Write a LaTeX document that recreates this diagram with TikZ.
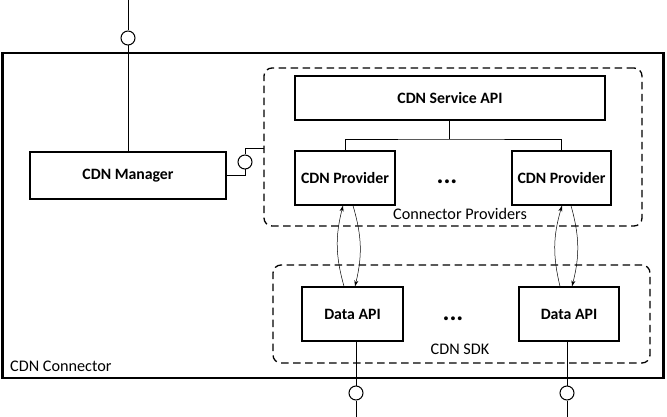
\documentclass[tikz,border=0pt]{standalone}
\usepackage{fontspec}
\setmainfont{Carlito}
\usetikzlibrary{arrows.meta,calc}
\begin{document}
\begin{tikzpicture}[x=1pt,y=-1pt,
  box/.style={draw,line width=1.3pt,inner sep=0pt,font=\fontsize{15.8}{18}\selectfont\bfseries},
  grp/.style={draw,line width=1.3pt,dash pattern=on 7.5pt off 4.5pt,rounded corners=8pt,inner sep=0pt},
  lbl/.style={font=\fontsize{16.2}{18}\selectfont,inner sep=0pt},
  dots/.style={font=\fontsize{26}{28}\selectfont\bfseries,inner sep=0pt},
  iface/.style={draw,circle,line width=1pt,minimum size=14pt,inner sep=0pt,fill=white},
  wire/.style={line width=0.8pt},
  flow/.style={line width=0.5pt,-{Stealth[length=6pt,width=4pt]}}]
\useasboundingbox (0,0) rectangle (667,417);
% outer frame
\node[draw,line width=2.3pt,minimum width=661pt,minimum height=325pt,inner sep=0pt] (outer) at (333,215.5) {};
\node[lbl,anchor=west] (cdnconn) at (10,366) {CDN Connector};
% groups
\node[grp,minimum width=378pt,minimum height=158pt] (cp) at (453,147) {};
\node[grp,minimum width=377pt,minimum height=98pt] (sdk) at (461.5,314) {};
\node[lbl] (cplbl) at (460,214) {Connector Providers};
\node[lbl] (sdklbl) at (460,349) {CDN SDK};
% boxes
\node[box,minimum width=196pt,minimum height=47pt] (mgr) at (128,175.5) {CDN Manager};
\node[box,minimum width=310pt,minimum height=44pt] (api) at (450,98) {CDN Service API};
\node[box,minimum width=100pt,minimum height=54pt] (pl) at (345,178) {CDN Provider};
\node[box,minimum width=99pt,minimum height=54pt] (pr) at (561.5,178) {CDN Provider};
\node[box,minimum width=101pt,minimum height=54pt] (dl) at (352.5,314) {Data API};
\node[box,minimum width=100pt,minimum height=54pt] (dr) at (569,314) {Data API};
\node[dots] (d1) at (447,182) {...};
\node[dots] (d2) at (453,319) {...};
% bus
\coordinate (bus) at (449,139);
\draw[wire] (api.south -| bus) -- (bus);
\draw[wire] (pl.north) |- (bus) -| (pr.north);
% top interface
\coordinate (topend) at (128,0);
\node[iface] (c1) at (128,38) {};
\draw[wire] (topend) -- (c1.north);
\draw[wire] (c1.south) -- (mgr.north);
% manager to providers interface
\node[iface] (c3) at (245,162) {};
\coordinate (cpin) at (264,148);
\draw[wire] (mgr.east) -| (c3.south);
\draw[wire] (c3.north) |- (cpin);
% bottom interfaces
\node[iface] (c2) at (356,393) {};
\node[iface] (c4) at (567,393) {};
\coordinate (b2) at (356,417);
\coordinate (b4) at (567,417);
\draw[wire] (dl.south -| c2) -- (c2.north);
\draw[wire] (c2.south) -- (b2);
\draw[wire] (dr.south -| c4) -- (c4.north);
\draw[wire] (c4.south) -- (b4);
% flows
\draw[flow] (dl.north -| 344,0) to[bend left=15] (pl.south -| 343,0);
\draw[flow] (pl.south -| 353,0) to[bend left=15] (dl.north -| 355,0);
\draw[flow] (dr.north -| 560,0) to[bend left=15] (pr.south -| 562,0);
\draw[flow] (pr.south -| 571,0) to[bend left=15] (dr.north -| 572,0);
\end{tikzpicture}
\end{document}
